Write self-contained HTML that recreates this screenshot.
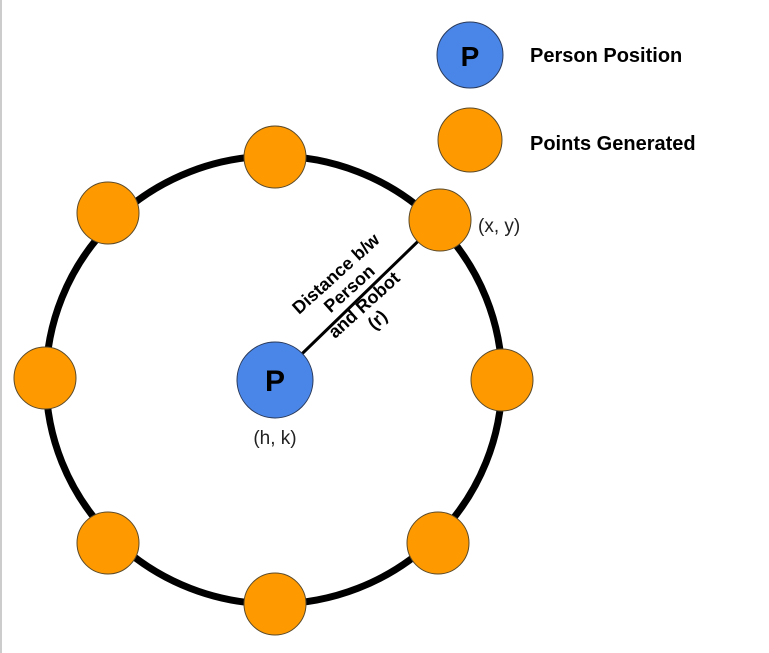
<!DOCTYPE html>
<html><head><meta charset="utf-8"><style>
html,body{margin:0;padding:0;background:#fff;width:769px;height:653px;overflow:hidden}
</style></head><body>
<svg width="769" height="653" viewBox="0 0 769 653" xmlns="http://www.w3.org/2000/svg" font-family="Liberation Sans, Arial, sans-serif">
<line x1="1" y1="0" x2="1" y2="653" stroke="#cccccc" stroke-width="2"/>
<ellipse cx="274" cy="380" rx="228" ry="224" fill="none" stroke="#000" stroke-width="7"/>
<line x1="275" y1="380" x2="440" y2="220" stroke="#000" stroke-width="3"/>
<g fill="#ff9900" stroke="#5a4a2a" stroke-width="1">
<circle cx="275" cy="157" r="31"/>
<circle cx="108" cy="213" r="31"/>
<circle cx="440" cy="220" r="31"/>
<circle cx="45" cy="378" r="31"/>
<circle cx="502" cy="380" r="31"/>
<circle cx="108" cy="543" r="31"/>
<circle cx="438" cy="543" r="31"/>
<circle cx="275" cy="604" r="31"/>
<circle cx="470" cy="140" r="32"/>
</g>
<g fill="#4a86e8" stroke="#2a3a5a" stroke-width="1">
<circle cx="275" cy="380" r="38"/>
<circle cx="470" cy="55" r="33"/>
</g>
<text x="275" y="391" font-size="30" font-weight="bold" text-anchor="middle" fill="#000">P</text>
<text x="470" y="66" font-size="28" font-weight="bold" text-anchor="middle" fill="#000">P</text>
<text x="530" y="62" font-size="20" font-weight="bold" fill="#000">Person Position</text>
<text x="530" y="150" font-size="20" font-weight="bold" fill="#000">Points Generated</text>
<text x="478" y="232" font-size="19" fill="#222">(x, y)</text>
<text x="275" y="444" font-size="19" fill="#222" text-anchor="middle">(h, k)</text>
<g transform="translate(356,296) rotate(-42)" font-size="18" font-weight="bold" text-anchor="middle" fill="#000">
<text x="0" y="-24">Distance b/w</text>
<text x="0" y="-4">Person</text>
<text x="0" y="18">and Robot</text>
<text x="0" y="38">(r)</text>
</g>
</svg>
</body></html>
